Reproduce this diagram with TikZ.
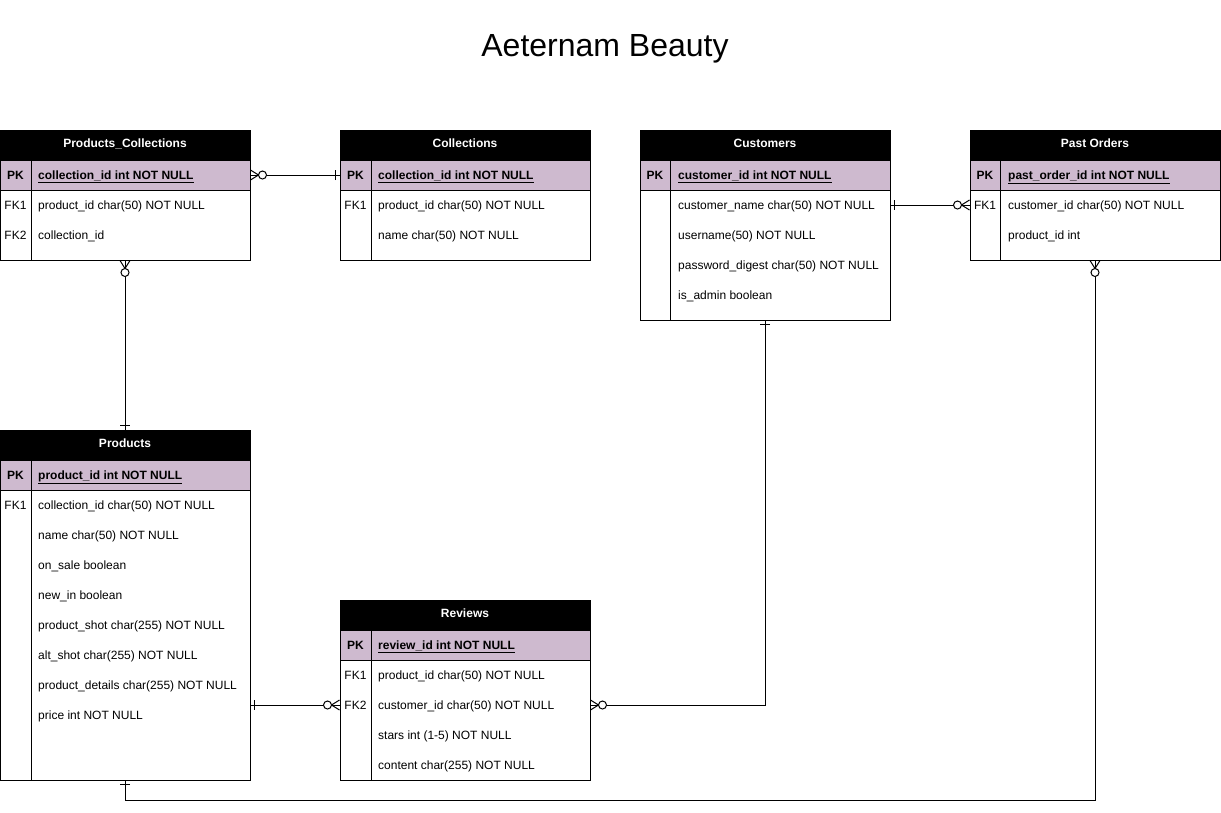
\documentclass[tikz,border=0pt]{standalone}
\usepackage{fontspec}
\setmainfont{Liberation Sans}
\usepackage{xcolor}
\usetikzlibrary{positioning}
\definecolor{pkpurple}{RGB}{206,186,207}
\tikzset{
  manyopt/.pic={
    \draw[line width=1pt] (0,-5) -- (8,0) -- (0,5);
    \draw[line width=1pt, fill=white] (12,0) circle (4);
  },
  onebar/.pic={
    \draw[line width=1pt] (4,-5) -- (4,5);
  },
}

\begin{document}
\begin{tikzpicture}[x=1pt, y=-1pt,
                    font=\fontsize{12}{14}\selectfont,
                    tblhead/.style={draw, fill=black, text=white, font=\fontsize{12}{14}\selectfont\bfseries,
                                    minimum width=250pt, minimum height=30pt, inner sep=0pt, line width=1pt,
                                    text height=5.8pt, text depth=0pt},
                    tblpk/.style={draw, fill=pkpurple, minimum width=250pt, minimum height=30pt, inner sep=0pt, line width=1pt},
                    tblbody/.style={draw, fill=white, minimum width=250pt, inner sep=0pt, line width=1pt},
                    divider/.style={line width=1pt},
                    keytxt/.style={inner sep=0pt, text height=9.5pt, text depth=1pt},
                    pkkey/.style={keytxt, font=\fontsize{12}{14}\selectfont\bfseries},
                    fieldtxt/.style={anchor=west, inner sep=0pt, text height=9.5pt, text depth=1pt},
                    pktxt/.style={fieldtxt, font=\fontsize{12}{14}\selectfont\bfseries},
                    relline/.style={line width=1pt},
                   ]

\useasboundingbox (0,0) rectangle (1221,812);

\node[font=\fontsize{32}{38}\selectfont] (title) at (605,49) {Aeternam Beauty};

% Products_Collections
\node[tblhead] (pchead) at (125,145) {Products\_Collections};
\node[tblpk] (pcpk) at (125,175) {};
\node[tblbody, minimum height=70pt] (pcbody) at (125,225) {};
\draw[divider] (31,160) -- (31,260);
\node[pkkey] (pck0) at (15.5,175) {PK};
\node[pktxt] (pcf0) at (38,175) {\underline{collection\_id int NOT NULL}};
\node[keytxt] (pck1) at (15.5,205) {FK1};
\node[fieldtxt] (pcf1) at (38,205) {product\_id char(50) NOT NULL};
\node[keytxt] (pck2) at (15.5,235) {FK2};
\node[fieldtxt] (pcf2) at (38,235) {collection\_id};

% Collections
\node[tblhead] (colhead) at (465,145) {Collections};
\node[tblpk] (colpk) at (465,175) {};
\node[tblbody, minimum height=70pt] (colbody) at (465,225) {};
\draw[divider] (371,160) -- (371,260);
\node[pkkey] (colk0) at (355.5,175) {PK};
\node[pktxt] (colf0) at (378,175) {\underline{collection\_id int NOT NULL}};
\node[keytxt] (colk1) at (355.5,205) {FK1};
\node[fieldtxt] (colf1) at (378,205) {product\_id char(50) NOT NULL};
\node[fieldtxt] (colf2) at (378,235) {name char(50) NOT NULL};

% Customers
\node[tblhead] (custhead) at (765,145) {Customers};
\node[tblpk] (custpk) at (765,175) {};
\node[tblbody, minimum height=130pt] (custbody) at (765,255) {};
\draw[divider] (670,160) -- (670,320);
\node[pkkey] (custk0) at (655,175) {PK};
\node[pktxt] (custf0) at (678,175) {\underline{customer\_id int NOT NULL}};
\node[fieldtxt] (custf1) at (678,205) {customer\_name char(50) NOT NULL};
\node[fieldtxt] (custf2) at (678,235) {username(50) NOT NULL};
\node[fieldtxt] (custf3) at (678,265) {password\_digest char(50) NOT NULL};
\node[fieldtxt] (custf4) at (678,295) {is\_admin boolean};

% Past Orders
\node[tblhead] (pohead) at (1095,145) {Past Orders};
\node[tblpk] (popk) at (1095,175) {};
\node[tblbody, minimum height=70pt] (pobody) at (1095,225) {};
\draw[divider] (1000,160) -- (1000,260);
\node[pkkey] (pok0) at (985,175) {PK};
\node[pktxt] (pof0) at (1008,175) {\underline{past\_order\_id int NOT NULL}};
\node[keytxt] (pok1) at (985,205) {FK1};
\node[fieldtxt] (pof1) at (1008,205) {customer\_id char(50) NOT NULL};
\node[fieldtxt] (pof2) at (1008,235) {product\_id int};

% Products
\node[tblhead] (prhead) at (125,445) {Products};
\node[tblpk] (prpk) at (125,475) {};
\node[tblbody, minimum height=290pt] (prbody) at (125,635) {};
\draw[divider] (31,460) -- (31,780);
\node[pkkey] (prk0) at (15.5,475) {PK};
\node[pktxt] (prf0) at (38,475) {\underline{product\_id int NOT NULL}};
\node[keytxt] (prk1) at (15.5,505) {FK1};
\node[fieldtxt] (prf1) at (38,505) {collection\_id char(50) NOT NULL};
\node[fieldtxt] (prf2) at (38,535) {name char(50) NOT NULL};
\node[fieldtxt] (prf3) at (38,565) {on\_sale boolean};
\node[fieldtxt] (prf4) at (38,595) {new\_in boolean};
\node[fieldtxt] (prf5) at (38,625) {product\_shot char(255) NOT NULL};
\node[fieldtxt] (prf6) at (38,655) {alt\_shot char(255) NOT NULL};
\node[fieldtxt] (prf7) at (38,685) {product\_details char(255) NOT NULL};
\node[fieldtxt] (prf8) at (38,715) {price int NOT NULL};

% Reviews
\node[tblhead] (revhead) at (465,615) {Reviews};
\node[tblpk] (revpk) at (465,645) {};
\node[tblbody, minimum height=120pt] (revbody) at (465,720) {};
\draw[divider] (371,630) -- (371,780);
\node[pkkey] (revk0) at (355.5,645) {PK};
\node[pktxt] (revf0) at (378,645) {\underline{review\_id int NOT NULL}};
\node[keytxt] (revk1) at (355.5,675) {FK1};
\node[fieldtxt] (revf1) at (378,675) {product\_id char(50) NOT NULL};
\node[keytxt] (revk2) at (355.5,705) {FK2};
\node[fieldtxt] (revf2) at (378,705) {customer\_id char(50) NOT NULL};
\node[fieldtxt] (revf3) at (378,735) {stars int (1-5) NOT NULL};
\node[fieldtxt] (revf4) at (378,765) {content char(255) NOT NULL};

% relations
\draw[relline] (pcpk.east) -- (colpk.west);
\pic at (pcpk.east) {manyopt};
\pic[rotate=180] at (colpk.west) {onebar};

\draw[relline] (custbody.east |- custf1) -- (pobody.west |- pof1);
\pic at (custbody.east |- custf1) {onebar};
\pic[rotate=180] at (pobody.west |- pof1) {manyopt};

\draw[relline] (pcbody.south) -- (prhead.north);
\pic[rotate=-90] at (pcbody.south) {manyopt};
\pic[rotate=90] at (prhead.north) {onebar};

\draw[relline] (prbody.east |- revk2) -- (revbody.west |- revk2);
\pic at (prbody.east |- revk2) {onebar};
\pic[rotate=180] at (revbody.west |- revk2) {manyopt};

\draw[relline] (custbody.south) |- (revbody.east |- revk2);
\pic[rotate=-90] at (custbody.south) {onebar};
\pic at (revbody.east |- revk2) {manyopt};

\draw[relline] (prbody.south) -- ++(0,20) -| (pobody.south);
\pic[rotate=-90] at (prbody.south) {onebar};
\pic[rotate=-90] at (pobody.south) {manyopt};

\end{tikzpicture}
\end{document}
